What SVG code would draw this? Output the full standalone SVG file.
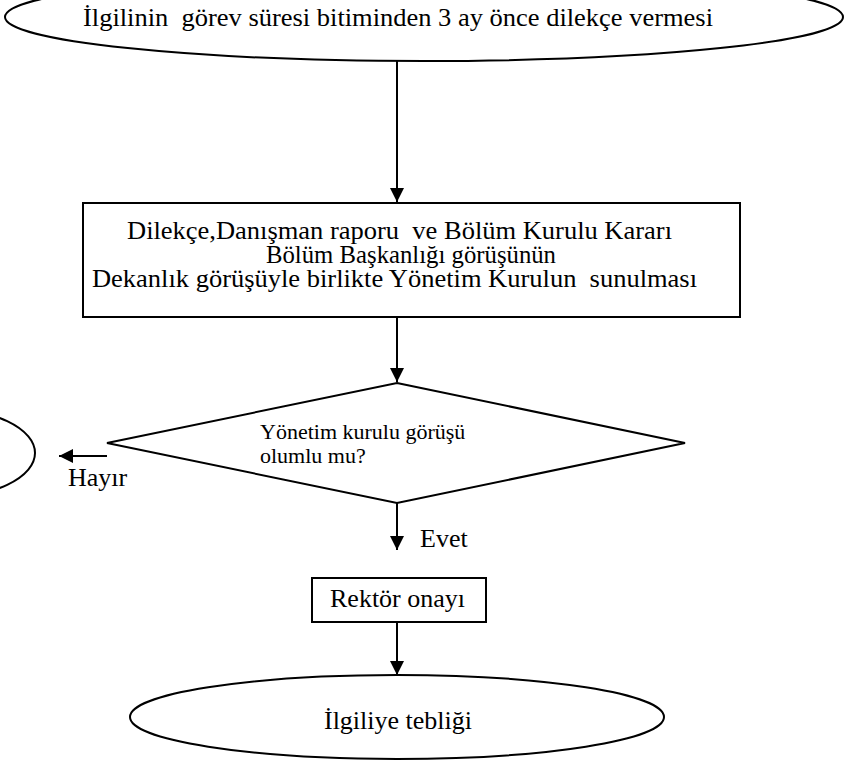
<svg xmlns="http://www.w3.org/2000/svg" width="848" height="762" viewBox="0 0 848 762">
  <style>
    .shape { fill: #ffffff; stroke: #000000; stroke-width: 2; }
    .line { fill: none; stroke: #000000; stroke-width: 2; }
    text { font-family: "Liberation Serif", "Times New Roman", serif; fill: #000000; white-space: pre; }
    .t26 { font-size: 26px; }
    .t25 { font-size: 25px; }
    .t22 { font-size: 22px; }
  </style>
  <defs>
    <marker id="arrow" viewBox="0 0 10 10" refX="10" refY="5" markerWidth="7.5" markerHeight="7" orient="auto" markerUnits="strokeWidth">
      <path d="M0,0 L10,5 L0,10 z" fill="#000000"/>
    </marker>
  </defs>

  <g id="connectors">
    <line class="line" x1="397" y1="61" x2="397" y2="202" marker-end="url(#arrow)"/>
    <line class="line" x1="397" y1="317" x2="397" y2="382" marker-end="url(#arrow)"/>
    <line class="line" x1="107" y1="456" x2="59" y2="456" marker-end="url(#arrow)"/>
    <line class="line" x1="397" y1="503" x2="397" y2="550" marker-end="url(#arrow)"/>
    <line class="line" x1="397" y1="622" x2="397" y2="675" marker-end="url(#arrow)"/>
  </g>

  <g id="start">
    <ellipse class="shape" cx="424" cy="17" rx="419" ry="44"/>
    <text class="t26" x="83" y="26" textLength="630" lengthAdjust="spacingAndGlyphs">İlgilinin  görev süresi bitiminden 3 ay önce dilekçe vermesi</text>
  </g>

  <g id="submission">
    <rect class="shape" x="83" y="203" width="657" height="114"/>
    <text class="t25" x="127" y="239" textLength="545" lengthAdjust="spacingAndGlyphs">Dilekçe,Danışman raporu  ve Bölüm Kurulu Kararı</text>
    <text class="t25" x="266" y="263" textLength="290" lengthAdjust="spacingAndGlyphs">Bölüm Başkanlığı görüşünün</text>
    <text class="t25" x="92" y="287" textLength="605" lengthAdjust="spacingAndGlyphs">Dekanlık görüşüyle birlikte Yönetim Kurulun  sunulması</text>
  </g>

  <g id="decision">
    <polygon class="shape" points="397,383 685,443 397,503 107,443"/>
    <text class="t22" x="260" y="439">Yönetim kurulu görüşü</text>
    <text class="t22" x="260" y="463">olumlu mu?</text>
  </g>

  <g id="rejected">
    <ellipse class="shape" cx="-60" cy="453" rx="95" ry="45"/>
  </g>

  <g id="labels">
    <text class="t26" x="68" y="486">Hayır</text>
    <text class="t26" x="420" y="547">Evet</text>
  </g>

  <g id="rector">
    <rect class="shape" x="312" y="578" width="174" height="44"/>
    <text class="t26" x="330" y="607">Rektör onayı</text>
  </g>

  <g id="end">
    <ellipse class="shape" cx="397" cy="717" rx="267" ry="42"/>
    <text class="t26" x="398" y="729" text-anchor="middle">İlgiliye tebliği</text>
  </g>
</svg>
